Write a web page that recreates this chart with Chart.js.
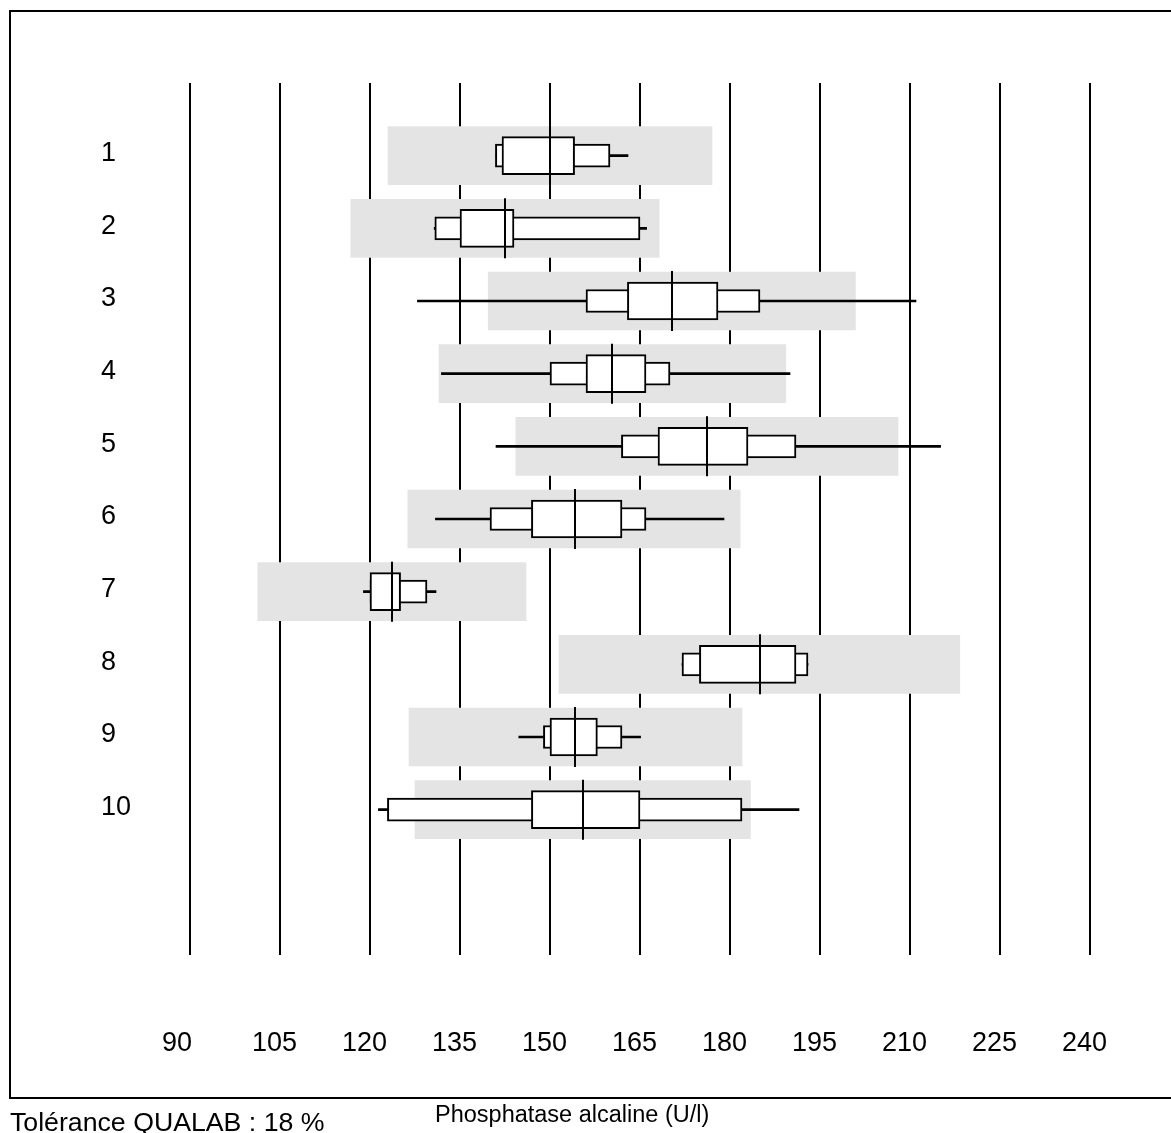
<!DOCTYPE html>
<html>
<head>
<meta charset="utf-8">
<title>Phosphatase alcaline</title>
<script src="https://cdn.jsdelivr.net/npm/chart.js@4.4.1/dist/chart.umd.min.js"></script>
<style>
  html, body { margin: 0; padding: 0; background: #fff; }
  canvas { display: block; }
</style>
</head>
<body>
<canvas id="chart" width="1171" height="1133"></canvas>
<script>
/* ===== DATA ===== */
const rows = ['1', '2', '3', '4', '5', '6', '7', '8', '9', '10'];
const xTicks = [90, 105, 120, 135, 150, 165, 180, 195, 210, 225, 240];

// tolerance band (target +/- 18 %)
const bandLow  = [123, 116.8, 139.7, 131.5, 144.3, 126.3, 101.3, 151.5, 126.5, 127.5];
const bandHigh = [177, 168.2, 200.9, 189.3, 208, 181.7, 146, 218.3, 182, 183.4];
// target / median line
const median   = [150, 142.5, 170.3, 160.4, 176.2, 154.2, 123.7, 185, 154.2, 155.5];
// min - max
const whiskLow  = [141, 130.7, 127.9, 131.9, 141, 130.9, 118.9, 172, 144.8, 121.4];
const whiskHigh = [163, 166.1, 211, 190, 215.1, 179, 131, 193, 165.1, 191.5];
// outer (thin) box
const outerLow  = [140.9, 130.8, 156, 150, 161.9, 140, 120, 172, 148.9, 122.9];
const outerHigh = [160, 165, 185, 170, 191, 166, 129.5, 193, 162, 182];
// inner (tall) box
const innerLow  = [142, 135, 162.9, 156, 168, 146.9, 120, 174.9, 150, 146.9];
const innerHigh = [154.1, 144, 178, 166, 183, 162, 125.1, 191, 157.9, 165];

const xTitle = 'Phosphatase alcaline (U/l)';
const note = 'Tolérance QUALAB : 18 %';

/* ===== HELPERS ===== */
const FONT = "'Liberation Sans', Arial, Helvetica, sans-serif";
const pairs = (lo, hi) => rows.map((r, i) => ({ y: r, x: [lo[i], hi[i]] }));
// blank slots above and below so rows sit where the original puts them
const yLabels = [''].concat(rows, ['', '']);

/* ===== PLUGINS ===== */
const frame = {
  id: 'frame',
  beforeDraw(chart) {
    const c = chart.ctx;
    c.save();
    c.strokeStyle = '#000';
    c.lineWidth = 2;
    c.strokeRect(10, 11, 1200, 1087);
    c.restore();
  },
  afterDraw(chart) {
    const c = chart.ctx;
    c.save();
    c.fillStyle = '#000';
    c.textBaseline = 'alphabetic';
    c.textAlign = 'left';
    c.font = `26.7px ${FONT}`;
    c.fillText(note, 10, 1131);
    c.font = `23.5px ${FONT}`;
    c.fillText(xTitle, 435, 1122);
    c.restore();
  }
};

const medianLines = {
  id: 'medianLines',
  afterDatasetsDraw(chart) {
    const c = chart.ctx, xs = chart.scales.x, ys = chart.scales.y;
    c.save();
    c.strokeStyle = '#000';
    c.lineWidth = 2;
    rows.forEach((r, i) => {
      const x = Math.round(xs.getPixelForValue(median[i]));
      const y = ys.getPixelForValue(i + 1);
      c.beginPath();
      c.moveTo(x, y - 30);
      c.lineTo(x, y + 30);
      c.stroke();
    });
    c.restore();
  }
};

/* ===== CHART ===== */
const boxStyle = {
  backgroundColor: '#fff',
  borderColor: '#000',
  borderWidth: 2,
  borderSkipped: false,
  grouped: false
};

new Chart(document.getElementById('chart'), {
  type: 'bar',
  data: {
    labels: yLabels,
    datasets: [
      Object.assign({ label: 'inner', data: pairs(innerLow, innerHigh), barThickness: 38 }, boxStyle),
      Object.assign({ label: 'outer', data: pairs(outerLow, outerHigh), barThickness: 23 }, boxStyle),
      { label: 'range', data: pairs(whiskLow, whiskHigh), barThickness: 2,
        backgroundColor: '#000', borderWidth: 0, grouped: false },
      { label: 'tolerance', data: pairs(bandLow, bandHigh), barThickness: 58,
        backgroundColor: '#e4e4e4', borderWidth: 0, grouped: false }
    ]
  },
  options: {
    indexAxis: 'y',
    responsive: false,
    animation: false,
    devicePixelRatio: 1,
    layout: { padding: { left: 101, right: 81, top: 83, bottom: 0 } },
    plugins: { legend: { display: false }, tooltip: { enabled: false } },
    scales: {
      x: {
        type: 'linear',
        min: xTicks[0],
        max: xTicks[xTicks.length - 1],
        afterBuildTicks: s => { s.ticks = xTicks.map(v => ({ value: v })); },
        afterFit: s => { s.height = 178; },
        // invisible tick marks push the labels down without widening the side padding
        grid: { color: '#000', lineWidth: 2, drawTicks: true, tickLength: 72, tickColor: 'rgba(0,0,0,0)' },
        border: { display: false },
        // labels in the original start a little left of each grid line
        ticks: { color: '#000', padding: 0, align: 'start', labelOffset: -28,
                 font: { family: FONT, size: 27 } }
      },
      y: {
        type: 'category',
        offset: false,
        afterFit: s => { s.width = 89; },
        grid: { display: false },
        border: { display: false },
        ticks: { color: '#000', crossAlign: 'far', labelOffset: -2, autoSkip: false,
                 font: { family: FONT, size: 27 } }
      }
    }
  },
  plugins: [frame, medianLines]
});
</script>
</body>
</html>
